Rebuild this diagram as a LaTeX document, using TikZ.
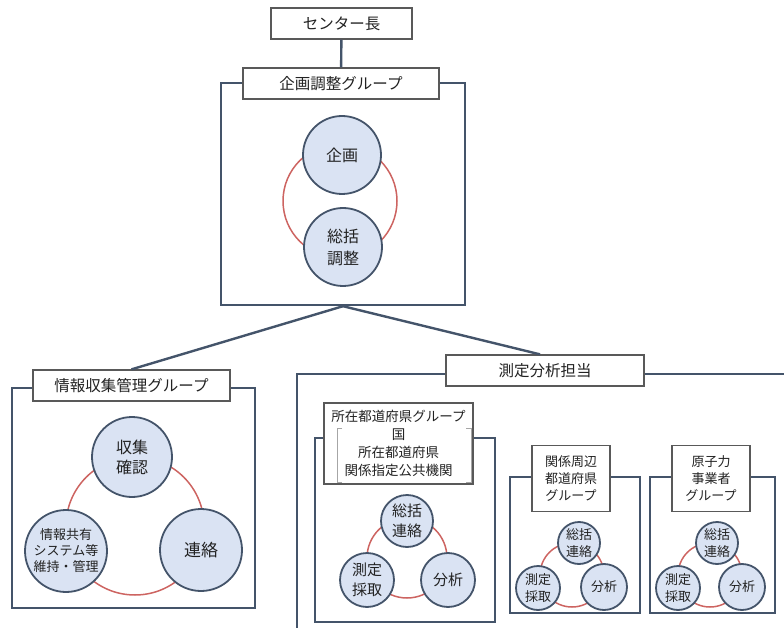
\documentclass[tikz,border=0pt]{standalone}
\usepackage{fontspec}
\setmainfont{Noto Sans CJK JP}
\definecolor{frameblue}{HTML}{44546A}
\definecolor{rolefill}{HTML}{DAE3F3}
\definecolor{ringred}{HTML}{CD6461}
\definecolor{boxgray}{HTML}{595959}
\definecolor{textgray}{HTML}{222222}

\begin{document}
\begin{tikzpicture}[x=1pt, y=-1pt,
  head/.style = {draw=boxgray, fill=white, line width=1.3pt, minimum height=31pt, inner sep=0pt, text=textgray, font=\fontsize{15.5}{18}\selectfont},
  frame/.style = {draw=frameblue, line width=2.4pt, inner sep=0pt},
  role/.style = {circle, draw=frameblue, fill=rolefill, line width=1.8pt, inner sep=0pt, align=center, text=textgray},
  ring/.style = {draw=ringred, line width=1.5pt},
  link/.style = {draw=frameblue, line width=2.4pt},
  bracket/.style = {draw=gray!70, line width=0.8pt}]

		\useasboundingbox (0,0) rectangle (784,628);
		\clip (0,0) rectangle (784,628);

		\node[frame, minimum width=244pt, minimum height=222pt] (kikakuF) at (343,194) {};
		\node[frame, minimum width=243pt, minimum height=220pt] (johoF) at (133.5,498) {};
		\node[frame, minimum width=503pt, minimum height=276pt] (sokuteiF) at (548.5,512) {};
		\node[frame, minimum width=180pt, minimum height=184pt] (shozaiF) at (405,530) {};
		\node[frame, minimum width=130pt, minimum height=136pt] (shuhenF) at (575,545) {};
		\node[frame, minimum width=125pt, minimum height=136pt] (genshiF) at (712.5,545) {};

		\draw[ring] (340,201) circle (57pt);
		\draw[ring] (135,526) circle (69pt);
		\draw[ring] (407,558) circle (40pt);
		\draw[ring] (572,575) circle (32pt);
		\draw[ring] (710,575) circle (32pt);

		\node[role, minimum size=78pt, font=\fontsize{16}{20}\selectfont] (kikaku) at (342,155) {企画};
		\node[role, minimum size=78pt, font=\fontsize{16}{22}\selectfont] (sokatsuK) at (343,247) {総括\\調整};

		\node[role, minimum size=80pt, font=\fontsize{16}{20}\selectfont] (shushu) at (132,457) {収集\\確認};
		\node[role, minimum size=82pt, font=\fontsize{13}{16}\selectfont] (kyoyu) at (66,551) {情報共有\\システム等\\維持・管理};
		\node[role, minimum size=82pt, font=\fontsize{17}{20}\selectfont] (renraku) at (201,550) {連絡};

		\node[role, minimum size=52pt, font=\fontsize{15}{20}\selectfont] (sokatsu1) at (407,521) {総括\\連絡};
		\node[role, minimum size=54pt, font=\fontsize{15}{20}\selectfont] (saishu1) at (367,580) {測定\\採取};
		\node[role, minimum size=54pt, font=\fontsize{15}{20}\selectfont] (bunseki1) at (448,580) {分析};

		\node[role, minimum size=42pt, font=\fontsize{13}{17}\selectfont] (sokatsu2) at (579,543) {総括\\連絡};
		\node[role, minimum size=44pt, font=\fontsize{13}{17}\selectfont] (saishu2) at (538,588) {測定\\採取};
		\node[role, minimum size=46pt, font=\fontsize{13}{17}\selectfont] (bunseki2) at (604,587) {分析};

		\node[role, minimum size=42pt, font=\fontsize{13}{17}\selectfont] (sokatsu3) at (717,543) {総括\\連絡};
		\node[role, minimum size=44pt, font=\fontsize{13}{17}\selectfont] (saishu3) at (678,588) {測定\\採取};
		\node[role, minimum size=46pt, font=\fontsize{13}{17}\selectfont] (bunseki3) at (742,587) {分析};

		\node[head, minimum width=141pt] (chief) at (341.5,23.5) {センター長};
		\node[head, minimum width=196pt] (kikakuT) at (341,83.5) {企画調整グループ};
		\node[head, minimum width=197pt] (johoT) at (131.5,385.5) {情報収集管理グループ};
		\node[head, minimum width=198pt] (sokuteiT) at (545,370.5) {測定分析担当};
		\node[head, minimum width=149pt, minimum height=81pt, align=center, font=\fontsize{13.5}{18}\selectfont] (shozaiT) at (398.5,443.5) {所在都道府県グループ\\国\\所在都道府県\\関係指定公共機関};
		\node[head, minimum width=78pt, minimum height=66pt, align=center, font=\fontsize{13}{17}\selectfont] (shuhenT) at (571,478.5) {関係周辺\\都道府県\\グループ};
		\node[head, minimum width=78pt, minimum height=66pt, align=center, font=\fontsize{13}{17}\selectfont] (genshiT) at (711,478.5) {原子力\\事業者\\グループ};

		\draw[bracket] (342,428) -- (337,428) -- (337,482) -- (342,482);
		\draw[bracket] (466,428) -- (471,428) -- (471,482) -- (466,482);

		\draw[link] (chief) -- (kikakuT);
		\draw[link] (kikakuF.south) -- (johoT.north);
		\draw[link] (kikakuF.south) -- ([xshift=-5pt]sokuteiT.north);
	\end{tikzpicture}
\end{document}
